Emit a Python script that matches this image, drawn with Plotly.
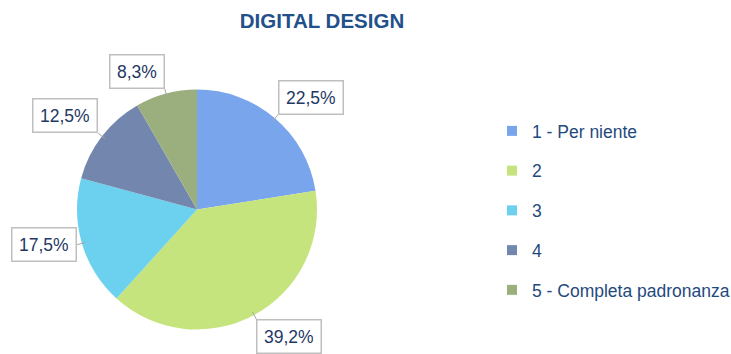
import math
import plotly.graph_objects as go

# Survey answers for "Digital design" self-assessment
categories = ["1 - Per niente", "2", "3", "4", "5 - Completa padronanza"]
percentages = [22.5, 39.2, 17.5, 12.5, 8.3]
slice_colors = ["#79A5EC", "#C6E47E", "#6CD1EE", "#7386AD", "#9BAF7E"]
title_text = "DIGITAL DESIGN"

W, H = 731, 354
FONT = "Liberation Sans, Arial, sans-serif"

# Pie placement in pixels (square domain)
cx, cy, r = 197.0, 209.5, 120.0
dom_x = [(cx - r) / W, (cx + r) / W]
dom_y = [1 - (cy + r) / H, 1 - (cy - r) / H]

fig = go.Figure()
fig.add_trace(go.Pie(
    labels=categories,
    values=percentages,
    sort=False,
    direction="clockwise",
    rotation=0,
    marker=dict(colors=slice_colors, line=dict(width=0)),
    textinfo="none",
    hoverinfo="label+percent",
    showlegend=False,
    domain=dict(x=dom_x, y=dom_y),
))

# Legend entries, one group each so they can be spaced apart
for name, col in zip(categories, slice_colors):
    fig.add_trace(go.Scatter(
        x=[None], y=[None], mode="markers", name=name, legendgroup=name,
        marker=dict(symbol="square", size=10, color=col),
    ))

# Boxed value labels placed just outside each slice's mid-angle
total = sum(percentages)
annotations = []
shapes = []
cum = 0.0
for v in percentages:
    mid = (cum + v / 2) / total * 2 * math.pi
    cum += v
    s, c = math.sin(mid), math.cos(mid)
    px0, py0 = cx + r * 0.97 * s, cy - r * 0.97 * c
    px, py = cx + r * 1.04 * s, cy - r * 1.04 * c
    shapes.append(dict(type="line", xref="paper", yref="paper",
                       x0=px0 / W, y0=1 - py0 / H, x1=px / W, y1=1 - py / H,
                       line=dict(color="#A6A6A6", width=1)))
    xanchor = "left" if s > 0 else "right"
    yanchor = "bottom" if c > 0.5 else ("top" if c < -0.5 else "middle")
    annotations.append(dict(
        xref="paper", yref="paper", x=px / W, y=1 - py / H,
        xanchor=xanchor, yanchor=yanchor, showarrow=False,
        text=f"{v:.1f}%".replace(".", ","),
        font=dict(family=FONT, size=17.5, color="#1F3864"),
        bgcolor="white", bordercolor="#BFBFBF", borderwidth=1.5,
        borderpad=6.5, height=19,
    ))

fig.update_layout(
    width=W, height=H,
    margin=dict(l=0, r=0, t=0, b=0, autoexpand=False),
    paper_bgcolor="white", plot_bgcolor="white",
    title=dict(text=f"<b>{title_text}</b>", x=322 / W, xanchor="center",
               y=1 - 21 / H, yanchor="middle",
               font=dict(family=FONT, size=20.5, color="#22508A")),
    xaxis=dict(visible=False), yaxis=dict(visible=False),
    legend=dict(x=492 / W, y=1 - 113 / H, xanchor="left", yanchor="top",
                tracegroupgap=14, bgcolor="rgba(0,0,0,0)",
                font=dict(family=FONT, size=17.5, color="#1F4A7E")),
    annotations=annotations,
    shapes=shapes,
)

fig.write_html("out.html")
